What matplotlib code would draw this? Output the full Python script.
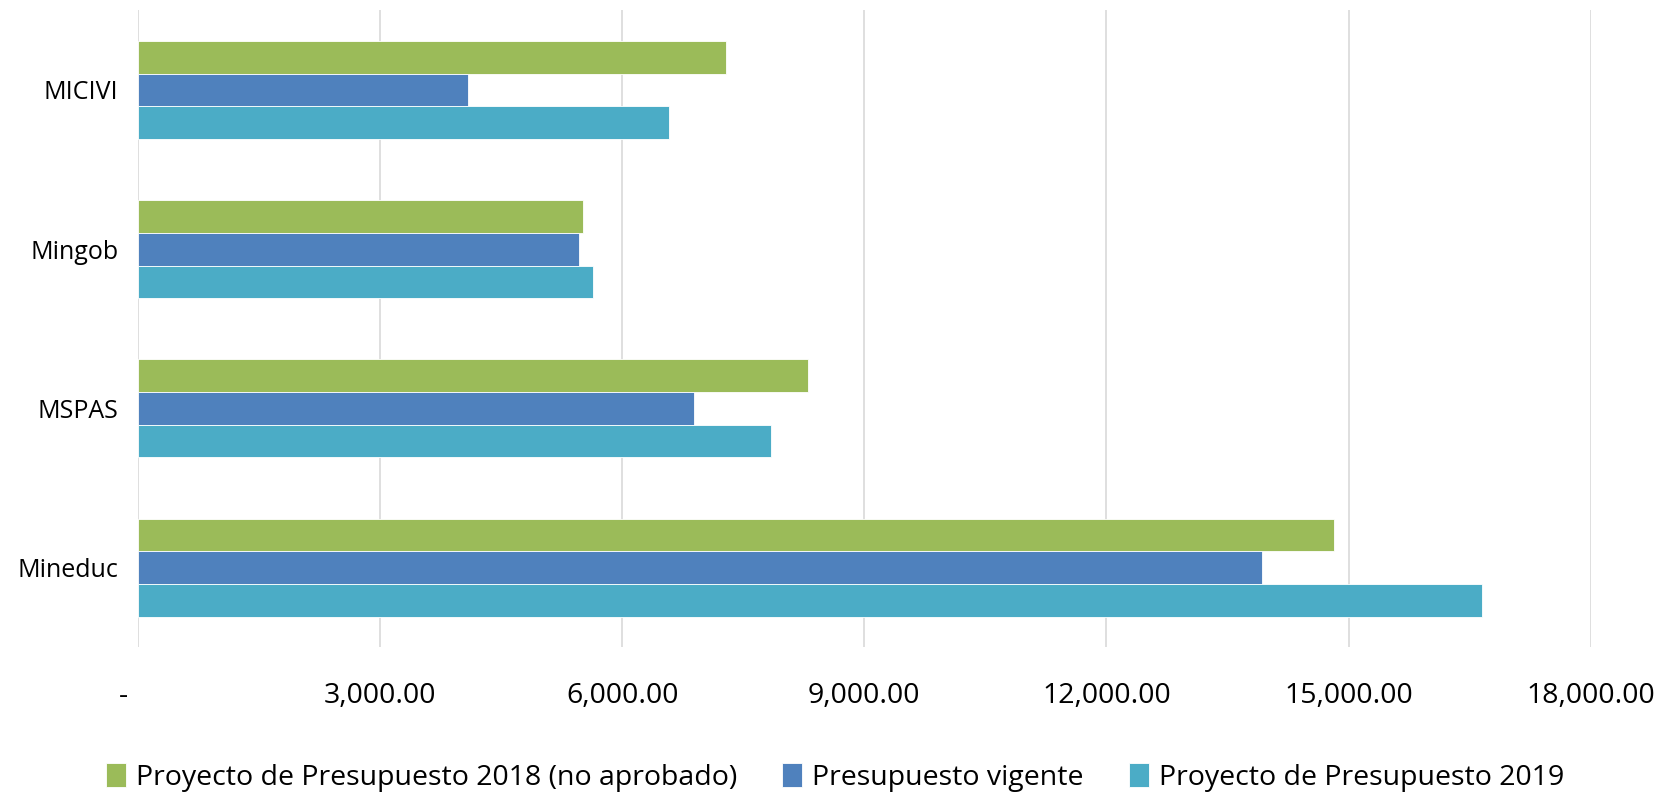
import numpy as np
import matplotlib.pyplot as plt
from matplotlib.ticker import FuncFormatter

plt.rcParams['font.family'] = ['Open Sans', 'DejaVu Sans']

categories = ["MICIVI", "Mingob", "MSPAS", "Mineduc"]
proy_2018 = [7280, 5515, 8306, 14817]
vigente = [4090, 5463, 6891, 13926]
proy_2019 = [6580, 5633, 7847, 16651]

series = [
    ("Proyecto de Presupuesto 2018 (no aprobado)", proy_2018, "#9BBB59"),
    ("Presupuesto vigente", vigente, "#4F81BD"),
    ("Proyecto de Presupuesto 2019", proy_2019, "#4BACC6"),
]

fs = 20.5
h = 0.205
y = np.arange(len(categories))

fig = plt.figure(figsize=(16.57, 8), dpi=100)
ax = fig.add_axes([0.0833, 0.191, 0.8767, 0.796])

for i, (name, vals, col) in enumerate(series):
    ax.barh(y + (i - 1) * h, vals, height=h, color=col, edgecolor="white",
            linewidth=0.6, label=name, zorder=3)

ax.set_xlim(0, 18000)
ax.set_ylim(3.5, -0.5)
ax.set_xticks(np.arange(0, 18001, 3000))
ax.xaxis.set_major_formatter(FuncFormatter(lambda v, p: "-    " if v == 0 else f"{v:,.2f}"))
ax.set_yticks(y)
ax.set_yticklabels(categories)
ax.grid(axis="x", color="#D9D9D9", linewidth=1.2, zorder=0)
for s in ax.spines.values():
    s.set_visible(False)
ax.tick_params(axis="both", length=0, colors="black")
ax.tick_params(axis="x", pad=25, labelsize=fs)
ax.tick_params(axis="y", pad=14, labelsize=18)

fig.legend(loc="lower center", bbox_to_anchor=(0.504, -0.022), ncol=3, frameon=False,
           fontsize=fs, handlelength=0.7, handleheight=0.95, handletextpad=0.35,
           columnspacing=1.6)

fig.savefig("out.png", dpi=100)
